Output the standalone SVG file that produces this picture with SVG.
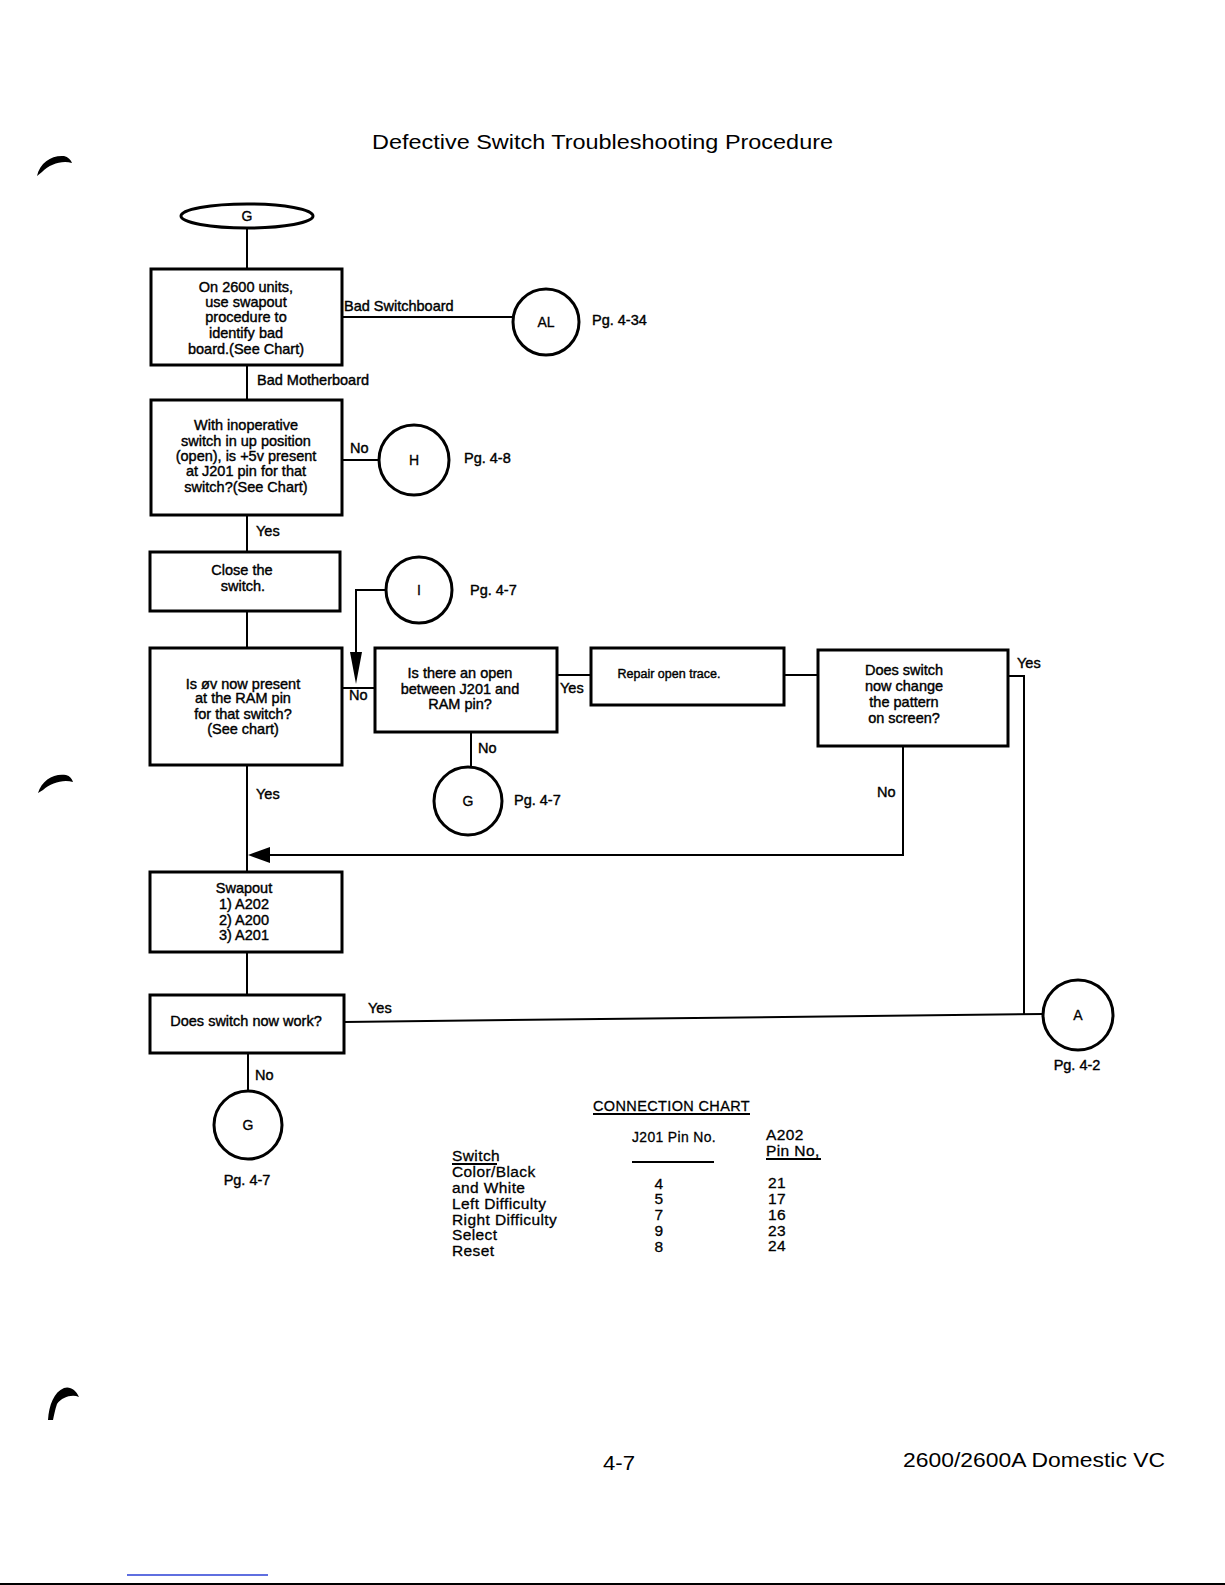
<svg xmlns="http://www.w3.org/2000/svg" width="1225" height="1585" viewBox="0 0 1225 1585">
<style>
.box{fill:none;stroke:#000;stroke-width:3}
.circ{fill:none;stroke:#000;stroke-width:3}
.ln{fill:none;stroke:#000;stroke-width:2}
text{font-family:"Liberation Sans",Arial,sans-serif;fill:#000}
.t{font-size:14.5px;text-anchor:middle;stroke:#000;stroke-width:0.4}
.lb{font-size:14.5px;stroke:#000;stroke-width:0.4}
.c{font-size:14px;text-anchor:middle;stroke:#000;stroke-width:0.3}
.ch{font-size:15.5px;stroke:#000;stroke-width:0.3;letter-spacing:0.4px}
</style>
<rect width="1225" height="1585" fill="#fff"/>
<text x="372" y="149" font-size="20" textLength="461" lengthAdjust="spacingAndGlyphs">Defective Switch Troubleshooting Procedure</text>

<g id="connectors">
<line class="ln" x1="247" y1="228" x2="247" y2="269"/>
<line class="ln" x1="342" y1="317" x2="513" y2="317"/>
<line class="ln" x1="247" y1="365" x2="247" y2="400"/>
<line class="ln" x1="342" y1="460" x2="379" y2="460"/>
<line class="ln" x1="247" y1="515" x2="247" y2="552"/>
<line class="ln" x1="247" y1="611" x2="247" y2="648"/>
<polyline class="ln" points="386,590 356,590 356,655"/>
<path d="M350,652 L362,652 L356,684 z" fill="#000"/>
<line class="ln" x1="342" y1="688" x2="375" y2="688"/>
<line class="ln" x1="557" y1="675" x2="591" y2="675"/>
<line class="ln" x1="784" y1="675" x2="818" y2="675"/>
<polyline class="ln" points="1008,676 1024,676 1024,1014"/>
<line class="ln" x1="471" y1="732" x2="471" y2="767"/>
<polyline class="ln" points="903,746 903,855 268,855"/>
<path d="M270,847 L270,863 L248,855 z" fill="#000"/>
<line class="ln" x1="247" y1="765" x2="247" y2="872"/>
<line class="ln" x1="247" y1="952" x2="247" y2="995"/>
<line class="ln" x1="344" y1="1022" x2="1043" y2="1014" stroke-width="3"/>
<line class="ln" x1="248" y1="1053" x2="248" y2="1091"/>
</g>

<g id="start-G"><ellipse cx="247" cy="216" rx="66" ry="12" class="circ"/><text class="c" x="247" y="221" font-size="12">G</text></g>

<g id="box1"><rect class="box" x="151" y="269" width="191" height="96"/>
<text class="t" x="246" y="292">On 2600 units,</text>
<text class="t" x="246" y="307">use swapout</text>
<text class="t" x="246" y="322">procedure to</text>
<text class="t" x="246" y="338">identify bad</text>
<text class="t" x="246" y="354">board.(See Chart)</text></g>

<g id="AL"><circle class="circ" cx="546" cy="322" r="33"/><text class="c" x="546" y="327">AL</text></g>

<g id="box2"><rect class="box" x="151" y="400" width="191" height="115"/>
<text class="t" x="246" y="430">With inoperative</text>
<text class="t" x="246" y="446">switch in up position</text>
<text class="t" x="246" y="461">(open), is +5v present</text>
<text class="t" x="246" y="476">at J201 pin for that</text>
<text class="t" x="246" y="492">switch?(See Chart)</text></g>

<g id="H"><circle class="circ" cx="414" cy="460" r="35"/><text class="c" x="414" y="465">H</text></g>

<g id="box3"><rect class="box" x="150" y="552" width="190" height="59"/>
<text class="t" x="242" y="575">Close the</text>
<text class="t" x="243" y="591">switch.</text></g>

<g id="I"><circle class="circ" cx="419" cy="590" r="33"/><text class="c" x="419" y="595">I</text></g>

<g id="box4"><rect class="box" x="150" y="648" width="192" height="117"/>
<text class="t" x="243" y="689">Is øv now present</text>
<text class="t" x="243" y="703">at the RAM pin</text>
<text class="t" x="243" y="719">for that switch?</text>
<text class="t" x="243" y="734">(See chart)</text></g>

<g id="box5"><rect class="box" x="375" y="648" width="182" height="84"/>
<text class="t" x="460" y="678">Is there an open</text>
<text class="t" x="460" y="694">between J201 and</text>
<text class="t" x="460" y="709">RAM pin?</text></g>

<g id="box6"><rect class="box" x="591" y="648" width="193" height="57"/>
<text class="t" x="669" y="678" style="font-size:12.5px">Repair open trace.</text></g>

<g id="box7"><rect class="box" x="818" y="650" width="190" height="96"/>
<text class="t" x="904" y="675">Does switch</text>
<text class="t" x="904" y="691">now change</text>
<text class="t" x="904" y="707">the pattern</text>
<text class="t" x="904" y="723">on screen?</text></g>

<g id="G-mid"><circle class="circ" cx="468" cy="801" r="34"/><text class="c" x="468" y="806">G</text></g>

<g id="box8"><rect class="box" x="150" y="872" width="192" height="80"/>
<text class="t" x="244" y="893">Swapout</text>
<text class="t" x="244" y="909">1) A202</text>
<text class="t" x="244" y="925">2) A200</text>
<text class="t" x="244" y="940">3) A201</text></g>

<g id="box9"><rect class="box" x="150" y="995" width="194" height="58"/>
<text class="t" x="246" y="1026">Does switch now work?</text></g>

<g id="A"><circle class="circ" cx="1078" cy="1015" r="35"/><text class="c" x="1078" y="1020" font-size="13">A</text></g>

<g id="G-bottom"><circle class="circ" cx="248" cy="1125" r="34"/><text class="c" x="248" y="1130" font-size="13">G</text></g>

<g id="labels">
<text class="lb" x="344" y="311">Bad Switchboard</text>
<text class="lb" x="592" y="325">Pg. 4-34</text>
<text class="lb" x="257" y="385">Bad Motherboard</text>
<text class="lb" x="350" y="453">No</text>
<text class="lb" x="464" y="463">Pg. 4-8</text>
<text class="lb" x="256" y="536">Yes</text>
<text class="lb" x="470" y="595">Pg. 4-7</text>
<text class="lb" x="349" y="700">No</text>
<text class="lb" x="560" y="693">Yes</text>
<text class="lb" x="1017" y="668">Yes</text>
<text class="lb" x="478" y="753">No</text>
<text class="lb" x="514" y="805">Pg. 4-7</text>
<text class="lb" x="256" y="799">Yes</text>
<text class="lb" x="877" y="797">No</text>
<text class="lb" x="368" y="1013">Yes</text>
<text class="lb" x="255" y="1080">No</text>
<text class="lb" x="247" y="1185" text-anchor="middle">Pg. 4-7</text>
<text class="lb" x="1077" y="1070" text-anchor="middle">Pg. 4-2</text>
</g>

<g id="chart">
<text class="ch" x="593" y="1111" textLength="157" lengthAdjust="spacingAndGlyphs">CONNECTION CHART</text>
<line class="ln" x1="593" y1="1114" x2="750" y2="1114" stroke-width="1.5"/>
<text class="ch" x="632" y="1142" textLength="84" lengthAdjust="spacingAndGlyphs">J201 Pin No.</text>
<line class="ln" x1="632" y1="1162" x2="714" y2="1162"/>
<text class="ch" x="766" y="1140">A202</text>
<text class="ch" x="766" y="1156">Pin No,</text>
<line class="ln" x1="766" y1="1159" x2="821" y2="1159" stroke-width="1.5"/>
<text class="ch" x="452" y="1161">Switch</text>
<line class="ln" x1="452" y1="1164" x2="497" y2="1164" stroke-width="1.5"/>
<text class="ch" x="452" y="1177">Color/Black</text>
<text class="ch" x="452" y="1193">and White</text>
<text class="ch" x="452" y="1209">Left Difficulty</text>
<text class="ch" x="452" y="1225">Right Difficulty</text>
<text class="ch" x="452" y="1240">Select</text>
<text class="ch" x="452" y="1256">Reset</text>
<text class="ch" x="659" y="1189" text-anchor="middle">4</text>
<text class="ch" x="659" y="1204" text-anchor="middle">5</text>
<text class="ch" x="659" y="1220" text-anchor="middle">7</text>
<text class="ch" x="659" y="1236" text-anchor="middle">9</text>
<text class="ch" x="659" y="1252" text-anchor="middle">8</text>
<text class="ch" x="768" y="1188">21</text>
<text class="ch" x="768" y="1204">17</text>
<text class="ch" x="768" y="1220">16</text>
<text class="ch" x="768" y="1236">23</text>
<text class="ch" x="768" y="1251">24</text>
</g>

<text x="603" y="1470" font-size="20" textLength="32" lengthAdjust="spacingAndGlyphs">4-7</text>
<text x="903" y="1467" font-size="20" textLength="262" lengthAdjust="spacingAndGlyphs">2600/2600A Domestic VC</text>

<g id="marks" fill="#000">
<path d="M37,176 C40,162 52,155 64,156 C68,157 71,160 72,163 C62,160 50,164 42,172 z"/>
<path d="M38,793 C42,780 54,773 66,775 C70,776 72,779 73,782 C63,779 51,783 43,790 z"/>
<path d="M48,1420 C49,1405 54,1392 64,1388 C70,1386 76,1390 79,1397 C72,1394 62,1397 57,1404 C55,1410 54,1415 53,1420 z"/>
</g>
<line x1="127" y1="1575" x2="268" y2="1575" stroke="#2a3fd6" stroke-width="1.5"/>
<line x1="0" y1="1584" x2="1225" y2="1584" stroke="#000" stroke-width="2"/>
</svg>
